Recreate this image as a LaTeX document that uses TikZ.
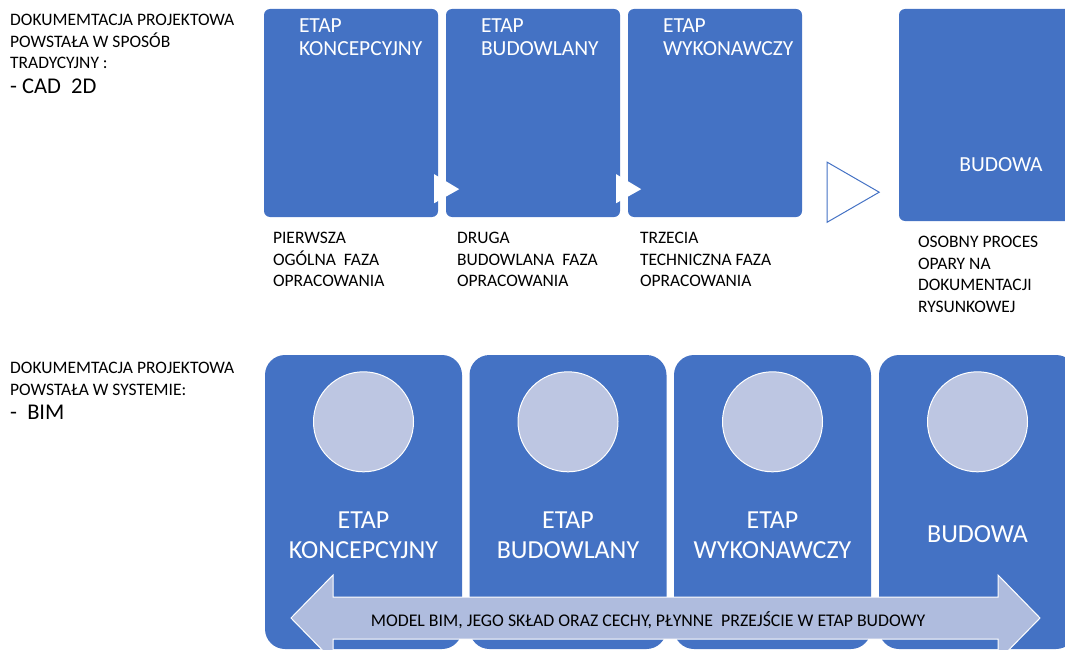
\documentclass[tikz,border=0pt]{standalone}
\usepackage{fontspec}
\setmainfont{Carlito}
\usetikzlibrary{calc}
\definecolor{stageblue}{RGB}{68,114,196}
\definecolor{circfill}{RGB}{189,198,226}
\definecolor{arrowfill}{RGB}{175,188,222}
\begin{document}
\begin{tikzpicture}[x=1pt, y=-1pt,
  topbox/.style={fill=stageblue, rounded corners=6pt, minimum width=174pt, minimum height=208pt, inner sep=0pt},
  bimbox/.style={fill=stageblue, rounded corners=20pt, minimum width=197pt, minimum height=294pt, inner sep=0pt},
  boxtitle/.style={text=white, font=\fontsize{21.5}{23}\selectfont, align=left, inner sep=0pt, anchor=north west},
  bimtitle/.style={text=white, font=\fontsize{26}{30}\selectfont, align=center, inner sep=0pt},
  note/.style={font=\fontsize{17.5}{21.5}\selectfont, align=left, inner sep=0pt, anchor=north west},
  stagecircle/.style={circle, fill=circfill, draw=white, line width=1pt, minimum size=100pt, inner sep=0pt}]
\useasboundingbox (0,0) rectangle (1065,650);
\node[note] (cadnote) at (10,14) {DOKUMEMTACJA PROJEKTOWA\\POWSTAŁA W SPOSÓB\\TRADYCYJNY :\\[3pt]{\fontsize{22.5}{25}\selectfont - CAD\ \ 2D}};
\node[topbox] (concept) at (351,113) {};
\node[topbox] (building) at (533,113) {};
\node[topbox] (execution) at (715,113) {};
\node[topbox, minimum width=204pt, minimum height=212pt] (construction) at (1001,115) {};
\node[boxtitle] (concept-t) at ($(concept.north west)+(35,10)$) {ETAP\\KONCEPCYJNY};
\node[boxtitle] (building-t) at ($(building.north west)+(35,10)$) {ETAP\\BUDOWLANY};
\node[boxtitle] (execution-t) at ($(execution.north west)+(35,10)$) {ETAP\\WYKONAWCZY};
\node[text=white, font=\fontsize{21.5}{24}\selectfont] (construction-t) at ($(construction.center)+(0,50)$) {BUDOWA};
\fill[white] ($(concept.south east)+(-4,-43)$) -- ($(concept.south east)+(21,-28)$) -- ($(concept.south east)+(-4,-14)$) -- cycle;
\fill[white] ($(building.south east)+(-4,-43)$) -- ($(building.south east)+(21,-28)$) -- ($(building.south east)+(-4,-14)$) -- cycle;
\draw[stageblue, line width=1pt] ($(execution.south east)+(25,-55)$) -- ($(execution.south east)+(77,-25)$) -- ($(execution.south east)+(25,5)$) -- cycle;
\node[note] (concept-n) at ($(concept.south west)+(9,15)$) {PIERWSZA\\OGÓLNA\ \ FAZA\\OPRACOWANIA};
\node[note] (building-n) at ($(building.south west)+(11,15)$) {DRUGA\\BUDOWLANA\ \ FAZA\\OPRACOWANIA};
\node[note] (execution-n) at ($(execution.south west)+(12,15)$) {TRZECIA\\TECHNICZNA FAZA\\OPRACOWANIA};
\node[note] (construction-n) at ($(construction.south west)+(19,15)$) {OSOBNY PROCES\\OPARY NA\\DOKUMENTACJI\\RYSUNKOWEJ};
\node[note] (bimnote) at (10,362) {DOKUMEMTACJA PROJEKTOWA\\POWSTAŁA W SYSTEMIE:\\[3pt]{\fontsize{22.5}{25}\selectfont -\ \ BIM}};
\node[bimbox] (bimconcept) at (363.5,502) {};
\node[bimbox] (bimbuilding) at (568,502) {};
\node[bimbox] (bimexecution) at (772.5,502) {};
\node[bimbox] (bimconstruction) at (977.5,502) {};
\node[stagecircle] (circ1) at ($(bimconcept.north)+(0,67)$) {};
\node[stagecircle] (circ2) at ($(bimbuilding.north)+(0,67)$) {};
\node[stagecircle] (circ3) at ($(bimexecution.north)+(0,67)$) {};
\node[stagecircle] (circ4) at ($(bimconstruction.north)+(0,67)$) {};
\node[bimtitle] (bimconcept-t) at ($(bimconcept.center)+(0,33)$) {ETAP\\KONCEPCYJNY};
\node[bimtitle] (bimbuilding-t) at ($(bimbuilding.center)+(0,33)$) {ETAP\\BUDOWLANY};
\node[bimtitle] (bimexecution-t) at ($(bimexecution.center)+(0,33)$) {ETAP\\WYKONAWCZY};
\node[bimtitle] (bimconstruction-t) at ($(bimconstruction.center)+(0,32)$) {BUDOWA};
\coordinate (arrl) at (291,618);
\coordinate (arrr) at (1040,618);
\filldraw[fill=arrowfill, draw=white, line width=1pt] (arrl) -- ++(42,-43) -- ++(0,22) -- ($(arrr)+(-42,-21)$) -- ++(0,-22) -- (arrr) -- ++(-42,43) -- ++(0,-22) -- ($(arrl)+(42,21)$) -- ++(0,22) -- cycle;
\node[font=\fontsize{17.8}{20}\selectfont, inner sep=0pt] (arrtxt) at (648,620) {MODEL BIM, JEGO SKŁAD ORAZ CECHY, PŁYNNE\ \ PRZEJŚCIE W ETAP BUDOWY};
\end{tikzpicture}
\end{document}
